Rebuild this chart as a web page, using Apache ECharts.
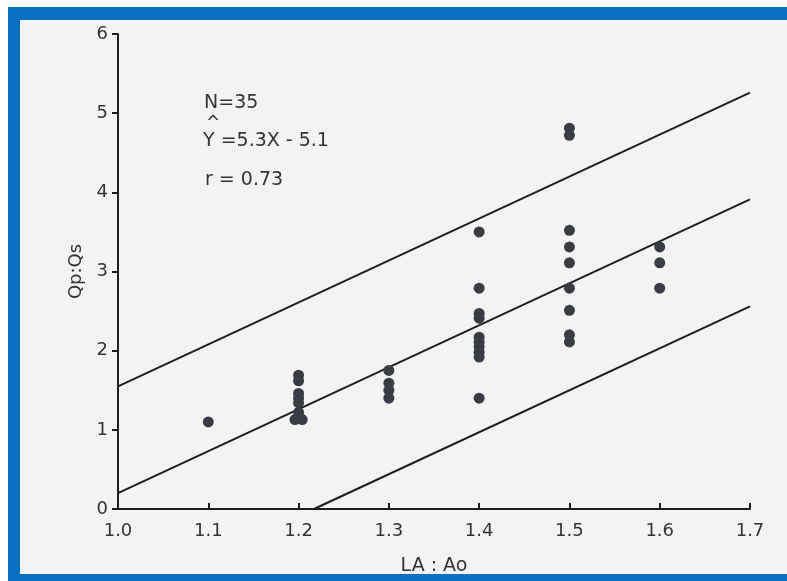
<!DOCTYPE html>
<html>
<head>
<meta charset="utf-8">
<script src="https://cdn.jsdelivr.net/npm/echarts@6/dist/echarts.min.js"></script>
<style>
  html, body { margin: 0; padding: 0; background: #fff; }
  #frame { position: absolute; left: 8px; top: 7px; width: 779px; height: 574px; background: #0a70c2; }
  #paper { position: absolute; left: 20px; top: 20px; width: 767px; height: 554px; background: #f3f3f3; }
  #chart { position: absolute; left: 0; top: 0; width: 787px; height: 581px; }
</style>
</head>
<body>
<div id="frame"></div>
<div id="paper"></div>
<div id="chart"></div>
<script>
// LA:Ao ratio vs Qp:Qs, one entry per patient (N=35)
var la11 = [[1.1, 1.10]];
var la12 = [[1.2, 1.69], [1.2, 1.62], [1.2, 1.46], [1.2, 1.40], [1.2, 1.34],
            [1.2, 1.22], [1.196, 1.13], [1.204, 1.13]];
var la13 = [[1.3, 1.75], [1.3, 1.59], [1.3, 1.50], [1.3, 1.40]];
var la14 = [[1.4, 3.50], [1.4, 2.79], [1.4, 2.47], [1.4, 2.41], [1.4, 2.17],
            [1.4, 2.11], [1.4, 2.05], [1.4, 1.98], [1.4, 1.92], [1.4, 1.40]];
var la15 = [[1.5, 4.81], [1.5, 4.72], [1.5, 3.52], [1.5, 3.31], [1.5, 3.11],
            [1.5, 2.79], [1.5, 2.51], [1.5, 2.20], [1.5, 2.11]];
var la16 = [[1.6, 3.31], [1.6, 3.11], [1.6, 2.79]];

// regression Y = 5.3X - 5.1 and the two bounding lines
var upperLine = [[1.0, 1.55], [1.7, 5.26]];
var fitLine = [[1.0, 0.2], [1.7, 3.91]];
var lowerLine = [[1.217, 0], [1.7, 2.56]];

var xTicks = ['1.0', '1.1', '1.2', '1.3', '1.4', '1.5', '1.6', '1.7'];

var points = [].concat(la11, la12, la13, la14, la15, la16);

var chart = echarts.init(document.getElementById('chart'), null, { renderer: 'canvas' });

var font = '"DejaVu Sans", sans-serif';

function lineSeries(d) {
  return {
    type: 'line',
    data: d,
    symbol: 'none',
    silent: true,
    lineStyle: { color: '#1e1e1e', width: 2 },
    z: 2
  };
}

chart.setOption({
  backgroundColor: 'transparent',
  animation: false,
  grid: { left: 118, right: 37, top: 34, bottom: 72 },
  xAxis: {
    type: 'value',
    min: 1.0,
    max: 1.7,
    interval: 0.1,
    name: 'LA : Ao',
    nameLocation: 'middle',
    nameGap: 48,
    nameTextStyle: { color: '#333', fontSize: 19, fontFamily: font },
    axisLine: { lineStyle: { color: '#1e1e1e', width: 2 } },
    axisTick: { inside: true, length: 6, lineStyle: { color: '#1e1e1e', width: 2 } },
    axisLabel: {
      color: '#333', fontSize: 18, fontFamily: font, margin: 13,
      formatter: function (v) { return xTicks[Math.round((v - 1.0) * 10)]; }
    },
    splitLine: { show: false }
  },
  yAxis: {
    type: 'value',
    min: 0,
    max: 6,
    interval: 1,
    name: 'Qp:Qs',
    nameLocation: 'middle',
    nameGap: 33,
    nameRotate: 90,
    nameTextStyle: { color: '#333', fontSize: 18, fontFamily: font },
    axisLine: { lineStyle: { color: '#1e1e1e', width: 2 } },
    axisTick: { length: 6, lineStyle: { color: '#1e1e1e', width: 2 } },
    axisLabel: { color: '#333', fontSize: 18, fontFamily: font, margin: 10 },
    splitLine: { show: false }
  },
  series: [
    lineSeries(upperLine),
    lineSeries(fitLine),
    lineSeries(lowerLine),
    {
      type: 'scatter',
      data: points,
      symbol: 'circle',
      symbolSize: 11,
      itemStyle: { color: '#3a3c44', opacity: 1 },
      z: 3
    }
  ],
  graphic: [
    { type: 'text', left: 204, top: 94, style: { text: 'N=35', fill: '#333', font: '19px ' + font } },
    { type: 'text', left: 206, top: 115, style: { text: '^', fill: '#333', font: '17px ' + font } },
    { type: 'text', left: 203, top: 132, style: { text: 'Y =5.3X - 5.1', fill: '#333', font: '19px ' + font } },
    { type: 'text', left: 205, top: 171, style: { text: 'r = 0.73', fill: '#333', font: '19px ' + font } }
  ]
});
</script>
</body>
</html>
